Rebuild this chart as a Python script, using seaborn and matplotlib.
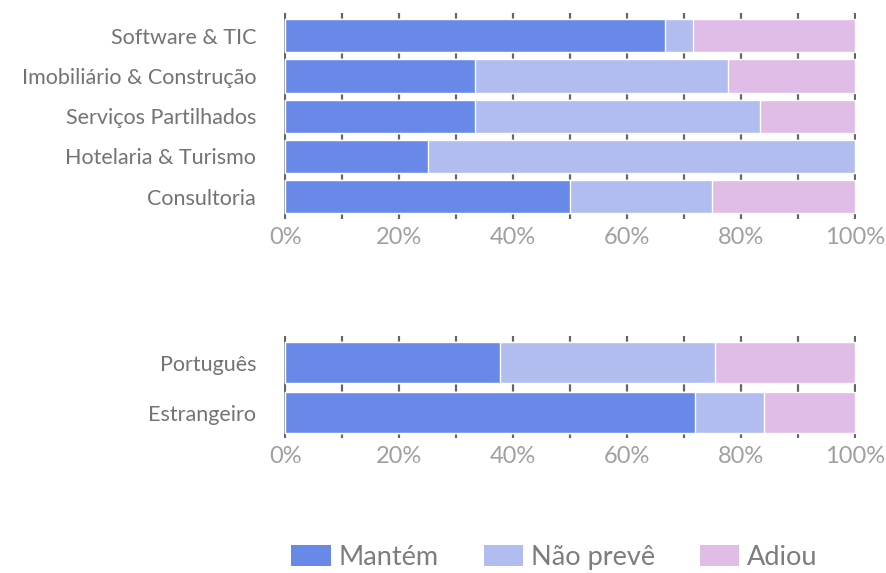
import matplotlib
matplotlib.use("Agg")
import matplotlib.pyplot as plt
from matplotlib.patches import Patch
import numpy as np
import seaborn as sns

# Sector data (% of companies)
sectors = ["Software & TIC", "Imobiliário & Construção", "Serviços Partilhados",
           "Hotelaria & Turismo", "Consultoria"]
sector_mantem = [66.7, 33.3, 33.3, 25.0, 50.0]
sector_nao_preve = [4.8, 44.4, 50.0, 75.0, 25.0]
sector_adiou = [28.5, 22.3, 16.7, 0.0, 25.0]

# Origin data
origins = ["Português", "Estrangeiro"]
origin_mantem = [37.7, 72.0]
origin_nao_preve = [37.8, 12.0]
origin_adiou = [24.5, 16.0]

series_names = ["Mantém", "Não prevê", "Adiou"]
colors = ["#6889e8", "#b0bdee", "#e0bde6"]

sns.set_theme(style="white")
plt.rcParams["font.family"] = ["Lato", "DejaVu Sans"]


def stacked(ax, cats, parts, width, ylim):
    cum = np.cumsum(np.array(parts), axis=0)
    # draw the longest (cumulative) layer first, then shorter ones on top
    for i in range(len(parts) - 1, -1, -1):
        sns.barplot(x=cum[i], y=cats, orient="h", color=colors[i], width=width,
                    edgecolor="white", linewidth=1, saturation=1, ax=ax)
    ax.set_xlim(-0.2, 100.2)
    ax.set_ylim(*ylim)
    ax.set_xticks(range(0, 101, 20))
    ax.set_xticks(range(10, 100, 20), minor=True)
    ax.set_xticklabels([f"{v}%" for v in range(0, 101, 20)])
    ax.grid(True, axis="x", which="both", color="#666666", linewidth=1.6)
    ax.grid(False, axis="y")
    ax.set_axisbelow(True)
    ax.tick_params(axis="x", which="both", length=0, labelsize=17, labelcolor="#a0a0a0", pad=6)
    ax.tick_params(axis="y", length=0, labelsize=15.5, labelcolor="#737373", pad=20)
    ax.set_xlabel("")
    ax.set_ylabel("")
    for s in ax.spines.values():
        s.set_visible(False)


fig = plt.figure(figsize=(8.86, 5.73), dpi=100)
ax1 = fig.add_axes([0.3205, 0.618, 0.6457, 0.359])
ax2 = fig.add_axes([0.3205, 0.2356, 0.6457, 0.178])

stacked(ax1, sectors, [sector_mantem, sector_nao_preve, sector_adiou], 0.83, (4.55, -0.56))
stacked(ax2, origins, [origin_mantem, origin_nao_preve, origin_adiou], 0.82, (1.51, -0.53))

handles = [Patch(facecolor=c, edgecolor="none") for c in colors]
leg = fig.legend(handles, series_names, loc="center", bbox_to_anchor=(0.626, 0.027),
                 ncol=3, frameon=False, fontsize=19.5, handlelength=1.45, handleheight=0.8,
                 handletextpad=0.3, columnspacing=1.65)
for t in leg.get_texts():
    t.set_color("#7d7d7d")

fig.savefig("out.png", dpi=100)
